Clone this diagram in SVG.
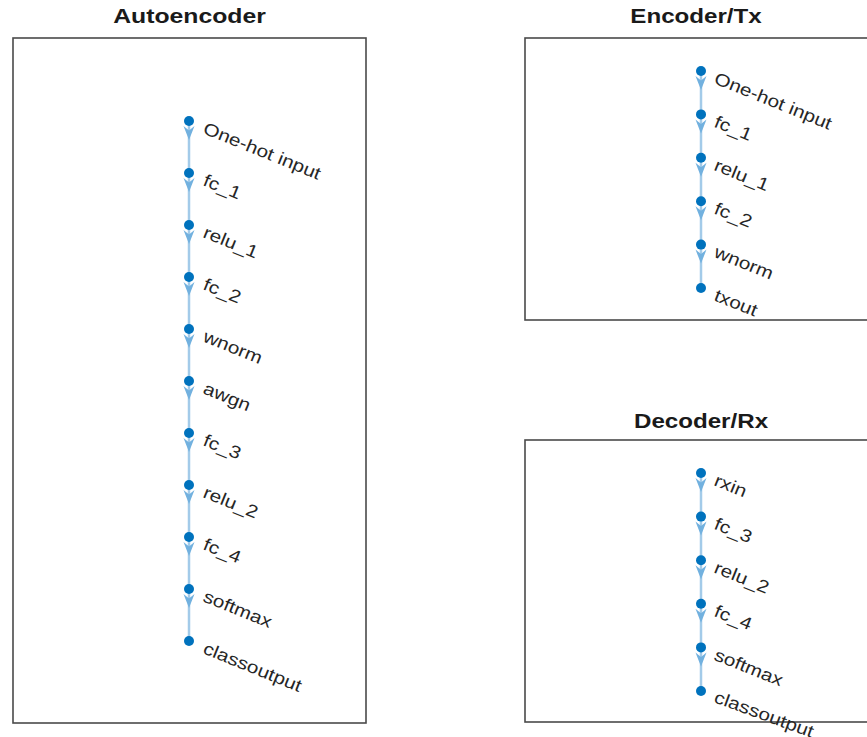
<svg xmlns="http://www.w3.org/2000/svg" xmlns:xlink="http://www.w3.org/1999/xlink" width="867" height="737" viewBox="0 0 867 737">
<style>
.box{fill:#fff;stroke:#4a4a4a;stroke-width:1.6}
.title{font-family:"Liberation Sans",Arial,sans-serif;font-weight:bold;font-size:21px;fill:#1a1a1a;text-anchor:middle}
.lbl{font-family:"Liberation Sans",Arial,sans-serif;font-size:17.5px;fill:#262626}
.node{fill:#0072BD}
.edge{stroke:#a3cbe9;stroke-width:2.5;fill:none}
.arr{fill:#72b1df}
</style>
<defs>
<path id="arr" d="M-5.5,5 L0,9.5 L5.5,5 L0,19 Z"/>
</defs>
<rect width="867" height="737" fill="#fff"/>
<g id="panels">
<rect class="box" x="13" y="38" width="353" height="685"/>
<rect class="box" x="525" y="38" width="350" height="282"/>
<rect class="box" x="525" y="440" width="350" height="282"/>
<text class="title" transform="translate(189.5,23) scale(1.18,1)">Autoencoder</text>
<text class="title" transform="translate(696,23) scale(1.15,1)">Encoder/Tx</text>
<text class="title" transform="translate(701,428) scale(1.15,1)">Decoder/Rx</text>
</g>
<g id="connectors">
<line class="edge" x1="189" y1="121" x2="189" y2="641"/>
<g class="arr">
<use href="#arr" x="189" y="121"/><use href="#arr" x="189" y="173"/><use href="#arr" x="189" y="225"/><use href="#arr" x="189" y="277"/><use href="#arr" x="189" y="329"/><use href="#arr" x="189" y="381"/><use href="#arr" x="189" y="433"/><use href="#arr" x="189" y="485"/><use href="#arr" x="189" y="537"/><use href="#arr" x="189" y="589"/>
</g>
<line class="edge" x1="701" y1="71" x2="701" y2="288"/>
<g class="arr">
<use href="#arr" x="701" y="71"/><use href="#arr" x="701" y="114.4"/><use href="#arr" x="701" y="157.8"/><use href="#arr" x="701" y="201.2"/><use href="#arr" x="701" y="244.6"/>
</g>
<line class="edge" x1="701" y1="473" x2="701" y2="691"/>
<g class="arr">
<use href="#arr" x="701" y="473"/><use href="#arr" x="701" y="516.6"/><use href="#arr" x="701" y="560.2"/><use href="#arr" x="701" y="603.8"/><use href="#arr" x="701" y="647.4"/>
</g>
</g>
<g id="ae-input"><circle class="node" cx="189" cy="121" r="5"/><text class="lbl" transform="translate(202,133) rotate(22) scale(1.18,1)">One-hot input</text></g>
<g id="ae-fc_1"><circle class="node" cx="189" cy="173" r="5"/><text class="lbl" transform="translate(202,185) rotate(22) scale(1.18,1)">fc_1</text></g>
<g id="ae-relu_1"><circle class="node" cx="189" cy="225" r="5"/><text class="lbl" transform="translate(202,237) rotate(22) scale(1.18,1)">relu_1</text></g>
<g id="ae-fc_2"><circle class="node" cx="189" cy="277" r="5"/><text class="lbl" transform="translate(202,289) rotate(22) scale(1.18,1)">fc_2</text></g>
<g id="ae-wnorm"><circle class="node" cx="189" cy="329" r="5"/><text class="lbl" transform="translate(202,341) rotate(22) scale(1.18,1)">wnorm</text></g>
<g id="ae-awgn"><circle class="node" cx="189" cy="381" r="5"/><text class="lbl" transform="translate(202,393) rotate(22) scale(1.18,1)">awgn</text></g>
<g id="ae-fc_3"><circle class="node" cx="189" cy="433" r="5"/><text class="lbl" transform="translate(202,445) rotate(22) scale(1.18,1)">fc_3</text></g>
<g id="ae-relu_2"><circle class="node" cx="189" cy="485" r="5"/><text class="lbl" transform="translate(202,497) rotate(22) scale(1.18,1)">relu_2</text></g>
<g id="ae-fc_4"><circle class="node" cx="189" cy="537" r="5"/><text class="lbl" transform="translate(202,549) rotate(22) scale(1.18,1)">fc_4</text></g>
<g id="ae-softmax"><circle class="node" cx="189" cy="589" r="5"/><text class="lbl" transform="translate(202,601) rotate(22) scale(1.18,1)">softmax</text></g>
<g id="ae-classoutput"><circle class="node" cx="189" cy="641" r="5"/><text class="lbl" transform="translate(202,653) rotate(22) scale(1.18,1)">classoutput</text></g>
<g id="enc-input"><circle class="node" cx="701" cy="71" r="5"/><text class="lbl" transform="translate(713,83) rotate(22) scale(1.18,1)">One-hot input</text></g>
<g id="enc-fc_1"><circle class="node" cx="701" cy="114.4" r="5"/><text class="lbl" transform="translate(713,126.4) rotate(22) scale(1.18,1)">fc_1</text></g>
<g id="enc-relu_1"><circle class="node" cx="701" cy="157.8" r="5"/><text class="lbl" transform="translate(713,169.8) rotate(22) scale(1.18,1)">relu_1</text></g>
<g id="enc-fc_2"><circle class="node" cx="701" cy="201.2" r="5"/><text class="lbl" transform="translate(713,213.2) rotate(22) scale(1.18,1)">fc_2</text></g>
<g id="enc-wnorm"><circle class="node" cx="701" cy="244.6" r="5"/><text class="lbl" transform="translate(713,256.6) rotate(22) scale(1.18,1)">wnorm</text></g>
<g id="enc-txout"><circle class="node" cx="701" cy="288" r="5"/><text class="lbl" transform="translate(713,300) rotate(22) scale(1.18,1)">txout</text></g>
<g id="dec-rxin"><circle class="node" cx="701" cy="473" r="5"/><text class="lbl" transform="translate(713,485) rotate(22) scale(1.18,1)">rxin</text></g>
<g id="dec-fc_3"><circle class="node" cx="701" cy="516.6" r="5"/><text class="lbl" transform="translate(713,528.6) rotate(22) scale(1.18,1)">fc_3</text></g>
<g id="dec-relu_2"><circle class="node" cx="701" cy="560.2" r="5"/><text class="lbl" transform="translate(713,572.2) rotate(22) scale(1.18,1)">relu_2</text></g>
<g id="dec-fc_4"><circle class="node" cx="701" cy="603.8" r="5"/><text class="lbl" transform="translate(713,615.8) rotate(22) scale(1.18,1)">fc_4</text></g>
<g id="dec-softmax"><circle class="node" cx="701" cy="647.4" r="5"/><text class="lbl" transform="translate(713,659.4) rotate(22) scale(1.18,1)">softmax</text></g>
<g id="dec-classoutput"><circle class="node" cx="701" cy="691" r="5"/><text class="lbl" transform="translate(713,702) rotate(20) scale(1.18,1)">classoutput</text></g>
</svg>
